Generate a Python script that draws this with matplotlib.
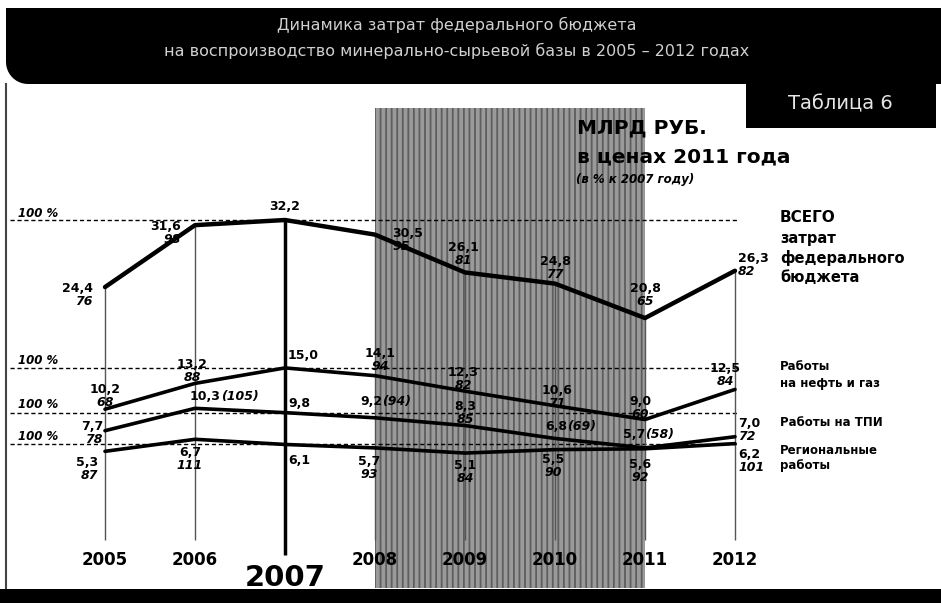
import numpy as np
import matplotlib.pyplot as plt
from matplotlib.patches import Rectangle, Polygon
from matplotlib.transforms import blended_transform_factory

plt.rcParams['font.family'] = ['DejaVu Sans']
plt.rcParams['hatch.linewidth'] = 1.3

# data (млрд руб., в ценах 2011 года; % к 2007 году)
years = [2005, 2006, 2007, 2008, 2009, 2010, 2011, 2012]
total = [24.4, 31.6, 32.2, 30.5, 26.1, 24.8, 20.8, 26.3]
total_pct = [76, 98, None, 95, 81, 77, 65, 82]
oil = [10.2, 13.2, 15.0, 14.1, 12.3, 10.6, 9.0, 12.5]
oil_pct = [68, 88, None, 94, 82, 71, 60, 84]
tpi = [7.7, 10.3, 9.8, 9.2, 8.3, 6.8, 5.7, 7.0]
tpi_pct = [78, 105, None, 94, 85, 69, 58, 72]
reg = [5.3, 6.7, 6.1, 5.7, 5.1, 5.5, 5.6, 6.2]
reg_pct = [87, 111, None, 93, 84, 90, 92, 101]

series_names = [['ВСЕГО', 'затрат', 'федерального', 'бюджета'],
                ['Работы', 'на нефть и газ'],
                ['Работы на ТПИ'],
                ['Региональные', 'работы']]

# label placement (pixels, image-style: +dy is down), ha
total_pos = [(-12, 8, 'right'), (-14, 8, 'right'), (0, -14, 'center'), (17, 5, 'left'),
             (-2, -18, 'center'), (0, -16, 'center'), (0, -23, 'center'), (3, -6, 'left')]
oil_pos = [(0, -13, 'center'), (-3, -12, 'center'), (3, -12, 'left'), (5, -16, 'center'),
           (-2, -12, 'center'), (2, -9, 'center'), (-5, -12, 'center'), (-10, -14, 'center')]
tpi_pos = [(-2, 2, 'right'), (-5, -12, 'left'), (3, -9, 'left'), (-15, -16, 'left'),
           (0, -13, 'center'), (-10, -12, 'left'), (-22, -13, 'left'), (3, -7, 'left')]
tpi_inline = [False, True, False, True, False, True, True, False]
reg_pos = [(-7, 18, 'right'), (-5, 20, 'center'), (3, 16, 'left'), (-6, 20, 'center'),
           (0, 19, 'center'), (-2, 16, 'center'), (-5, 22, 'center'), (3, 17, 'left')]

W, H = 941, 603
fig = plt.figure(figsize=(W / 100, H / 100), dpi=100)
ax = fig.add_axes([0, 0, 1, 1])
# 90 px per year, 8.6 px per unit
ax.set_xlim(2005 - 105 / 90, 2005 - 105 / 90 + W / 90)
ytop = 32.2 + 220 / 8.6
ax.set_ylim(ytop - H / 8.6, ytop)
ax.axis('off')


def F(x, y):
    return (x / W, 1 - y / H)


# shaded photo area
ax.add_patch(Rectangle(F(375, 588), 270 / W, 480 / H, transform=fig.transFigure,
                       facecolor='#9a9a9a', edgecolor='#5e5e5e', hatch='|||', lw=0, zorder=0))

# header band with rounded corner
r = 22
t = np.linspace(np.pi, 1.5 * np.pi, 12)
arc = [(6 + r + r * np.cos(a), 84 - r - r * np.sin(a)) for a in t[::-1]]
pts = [(6, 8), (W, 8), (W, 84)] + [(6 + r, 84)] + arc[1:]
ax.add_patch(Polygon([F(x, y) for x, y in pts], closed=True, transform=fig.transFigure,
                     facecolor='black', edgecolor='none', zorder=5))
ax.add_patch(Rectangle(F(746, 128), 190 / W, 50 / H, transform=fig.transFigure,
                       facecolor='black', edgecolor='none', zorder=5))
fig.text(*F(457, 25), 'Динамика затрат федерального бюджета', color='#d0d0d0',
         fontsize=11.5, ha='center', va='center', zorder=6)
fig.text(*F(457, 51), 'на воспроизводство минерально-сырьевой базы в 2005 – 2012 годах',
         color='#d0d0d0', fontsize=11.5, ha='center', va='center', zorder=6)
fig.text(*F(840, 104), 'Таблица 6', color='#e6e6e6', fontsize=14, ha='center',
         va='center', zorder=6)

# frame pieces
ax.add_patch(Rectangle(F(0, 603), 1, 14 / H, transform=fig.transFigure,
                       facecolor='black', edgecolor='none', zorder=5))
ax.plot([6 / W, 6 / W], [1 - 84 / H, 1 - 590 / H], transform=fig.transFigure,
        color='#444444', lw=1.5)

# units
fig.text(*F(577, 128), 'МЛРД РУБ.', fontsize=14.5, weight='bold', va='center')
fig.text(*F(577, 157), 'в ценах 2011 года', fontsize=14.5, weight='bold', va='center')
fig.text(*F(576, 180), '(в % к 2007 году)', fontsize=8.5, weight='bold',
         style='italic', va='center')

# 100 % reference lines
x0 = 2005 - 95 / 90
x1 = 2012 + 2 / 90
for base, ty in zip([total[2], oil[2], tpi[2], reg[2]], [213, 361, 404, 437]):
    ax.hlines(base, x0, x1, colors='black', linestyles=(0, (3, 2)), lw=1, zorder=2)
    fig.text(*F(18, ty), '100 %', fontsize=8.5, weight='bold', style='italic', va='center')

# vertical year lines
for i, yr in enumerate(years):
    if yr == 2007:
        ax.vlines(yr, -6.8, total[i], colors='black', lw=2.5, zorder=3)
    else:
        ax.vlines(yr, -5.0, total[i], colors='#555555', lw=1, zorder=2)

# data lines
ax.plot(years, total, color='black', lw=3.2, zorder=4, solid_capstyle='round')
for s in [oil, tpi, reg]:
    ax.plot(years, s, color='black', lw=2.6, zorder=4, solid_capstyle='round')


def fmt(v):
    return f'{v:.1f}'.replace('.', ',')


def label(x, v, p, pos, inline=False):
    dx, dy, ha = pos
    kw = dict(textcoords='offset pixels', fontsize=9, weight='bold', zorder=6)
    if p is None:
        ax.annotate(fmt(v), (x, v), xytext=(dx, -dy), ha=ha, va='center', **kw)
    elif inline:
        t1 = ax.annotate(fmt(v), (x, v), xytext=(dx, -dy), ha='left', va='center', **kw)
        ax.annotate(f'({p})', xy=(1, 0.5), xycoords=t1, ha='left', va='center',
                    fontsize=9, weight='bold', style='italic', zorder=6)
    else:
        ax.annotate(fmt(v), (x, v), xytext=(dx, -dy + 6.5), ha=ha, va='center', **kw)
        ax.annotate(str(p), (x, v), xytext=(dx, -dy - 6.5), ha=ha, va='center',
                    style='italic', **kw)


for i, yr in enumerate(years):
    label(yr, total[i], total_pct[i], total_pos[i])
    label(yr, oil[i], oil_pct[i], oil_pos[i])
    label(yr, tpi[i], tpi_pct[i], tpi_pos[i], tpi_inline[i])
    label(yr, reg[i], reg_pct[i], reg_pos[i])

# series names on the right
for lines, y0, fs, step in zip(series_names, [218, 367, 423, 450], [10.5, 8.5, 8.5, 8.5],
                               [20, 17, 0, 15]):
    for k, txt in enumerate(lines):
        size = 11 if txt == 'ВСЕГО' else fs
        fig.text(*F(780, y0 + k * step), txt, fontsize=size, weight='bold', va='center')

# year labels
tr = blended_transform_factory(ax.transData, fig.transFigure)
for yr in years:
    if yr == 2007:
        ax.text(yr, 1 - 578 / H, str(yr), transform=tr, fontsize=21, weight='bold',
                ha='center', va='center')
    else:
        ax.text(yr, 1 - 560 / H, str(yr), transform=tr, fontsize=12, weight='bold',
                ha='center', va='center')

fig.savefig('out.png', dpi=100)
